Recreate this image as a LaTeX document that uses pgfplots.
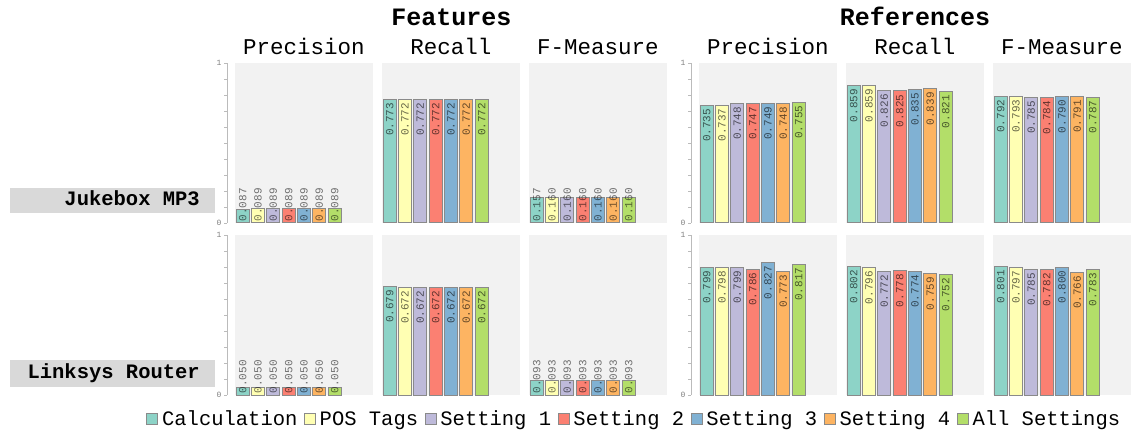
\documentclass[border=0pt]{standalone}
\usepackage{fontspec}
\setmainfont{Liberation Mono}
\usepackage{pgfplots}
\pgfplotsset{compat=1.18}

\definecolor{c1}{HTML}{8DD3C7}
\definecolor{c2}{HTML}{FFFFB3}
\definecolor{c3}{HTML}{BEBADA}
\definecolor{c4}{HTML}{FB8072}
\definecolor{c5}{HTML}{80B1D3}
\definecolor{c6}{HTML}{FDB462}
\definecolor{c7}{HTML}{B3DE69}
\definecolor{panelbg}{HTML}{F2F2F2}
\definecolor{boxbg}{HTML}{D9D9D9}
\definecolor{outl}{HTML}{8A8A8A}
\definecolor{axgray}{HTML}{BBBBBB}

\newcommand\labfont{\fontsize{11}{12}\selectfont}

\pgfplotsset{
  every axis title shift=0pt,
  panel/.style={
    scale only axis, width=138pt, height=160pt, anchor=north west,
    xmin=-0.5, xmax=8.5, ymin=0, ymax=1,
    ybar, bar width=13pt, bar shift=0pt,
    axis line style={draw=none}, xtick=\empty, ytick=\empty,
    axis background/.style={fill=panelbg},
    title style={at={(0.5,1)}, anchor=base, yshift=8pt, font=\fontsize{22.5}{24}\selectfont},
    clip=false,
    /pgf/number format/assume math mode=true,
  },
  toplab/.style={
    nodes near coords={\pgfmathprintnumber[fixed,zerofill,precision=3,assume math mode=true]{\pgfplotspointmeta}},
    every node near coord/.append style={rotate=90, anchor=east, font=\labfont,
      text=black, text opacity=0.6, inner xsep=3pt, inner ysep=0pt},
  },
  lowl/.style={
    forget plot, draw=none, fill=none, point meta=explicit,
    nodes near coords={\pgfmathprintnumber[fixed,zerofill,precision=3,assume math mode=true]{\pgfplotspointmeta}},
    every node near coord/.append style={rotate=90, anchor=west, font=\labfont,
      text=black, text opacity=0.55, inner xsep=1.5pt, inner ysep=0pt},
  },
  yax/.style={
    ytick={0,1}, minor ytick={0.1,0.2,0.3,0.4,0.5,0.6,0.7,0.8,0.9},
    ytick pos=left, tick align=outside,
    major tick length=3pt, minor tick length=3pt,
    every tick/.style={draw=axgray, xshift=-8pt},
    yticklabel style={xshift=-7pt, font=\fontsize{8}{8}\selectfont, text=gray},
    extra description/.code={\draw[axgray] ([xshift=-8pt]0,0) -- ([xshift=-8pt]0,1);},
  },
  bstyle/.style={draw=outl, line width=1pt},
}

\newcommand\bars[7]{%
  \addplot[bstyle, fill=c1] coordinates {(0,#1)};
  \addplot[bstyle, fill=c2] coordinates {(1,#2)};
  \addplot[bstyle, fill=c3] coordinates {(2,#3)};
  \addplot[bstyle, fill=c4] coordinates {(3,#4)};
  \addplot[bstyle, fill=c5] coordinates {(4,#5)};
  \addplot[bstyle, fill=c6] coordinates {(5,#6)};
  \addplot[bstyle, fill=c7] coordinates {(6,#7)};
}
\newcommand\lowlab[7]{%
  \addplot[lowl] coordinates {(0,0) [#1]};
  \addplot[lowl] coordinates {(1,0) [#2]};
  \addplot[lowl] coordinates {(2,0) [#3]};
  \addplot[lowl] coordinates {(3,0) [#4]};
  \addplot[lowl] coordinates {(4,0) [#5]};
  \addplot[lowl] coordinates {(5,0) [#6]};
  \addplot[lowl] coordinates {(6,0) [#7]};
}

\begin{document}
\begin{tikzpicture}
\useasboundingbox (0pt,0pt) rectangle (1145pt,-430pt);

% group titles
\node[anchor=base, font=\fontsize{25}{26}\selectfont\bfseries] at (451.5pt,-26pt) {Features};
\node[anchor=base, font=\fontsize{25}{26}\selectfont\bfseries] at (915pt,-26pt) {References};

% row labels
\fill[boxbg] (10pt,-188pt) rectangle (215pt,-213.5pt);
\node[anchor=base east, inner sep=0pt, font=\fontsize{20.5}{22}\selectfont\bfseries] at (200pt,-206pt) {Jukebox MP3};
\fill[boxbg] (10pt,-359.5pt) rectangle (215pt,-386.5pt);
\node[anchor=base east, inner sep=0pt, font=\fontsize{20.5}{22}\selectfont\bfseries] at (200pt,-378pt) {Linksys Router};

% ---------- Row 1: Jukebox MP3 ----------
\begin{axis}[panel, yax, at={(235pt,-63pt)}, title={Precision}]
  \bars{0.087}{0.089}{0.089}{0.089}{0.089}{0.089}{0.089}
  \lowlab{0.087}{0.089}{0.089}{0.089}{0.089}{0.089}{0.089}
\end{axis}
\begin{axis}[panel, toplab, at={(382pt,-63pt)}, title={Recall}]
  \bars{0.773}{0.772}{0.772}{0.772}{0.772}{0.772}{0.772}
\end{axis}
\begin{axis}[panel, at={(529pt,-63pt)}, title={F-Measure}]
  \bars{0.157}{0.160}{0.160}{0.160}{0.160}{0.160}{0.160}
  \lowlab{0.157}{0.160}{0.160}{0.160}{0.160}{0.160}{0.160}
\end{axis}
\begin{axis}[panel, yax, toplab, at={(699pt,-63pt)}, title={Precision}]
  \bars{0.735}{0.737}{0.748}{0.747}{0.749}{0.748}{0.755}
\end{axis}
\begin{axis}[panel, toplab, at={(846pt,-63pt)}, title={Recall}]
  \bars{0.859}{0.859}{0.826}{0.825}{0.835}{0.839}{0.821}
\end{axis}
\begin{axis}[panel, toplab, at={(993pt,-63pt)}, title={F-Measure}]
  \bars{0.792}{0.793}{0.785}{0.784}{0.790}{0.791}{0.787}
\end{axis}

% ---------- Row 2: Linksys Router ----------
\begin{axis}[panel, yax, at={(235pt,-235pt)},
  legend columns=7,
  legend entries={Calculation, POS Tags, Setting 1, Setting 2, Setting 3, Setting 4, All Settings},
  legend image code/.code={\draw[#1,/tikz/.cd,line width=0.8pt] (0pt,-5pt) rectangle (11pt,6pt);},
  legend style={at={(2.895,-0.15)}, anchor=center, draw=none, fill=none,
    font=\fontsize{20.5}{22}\selectfont, inner sep=0pt,
    nodes={inner xsep=2.5pt, inner ysep=1pt},
    /tikz/every odd column/.append style={column sep=1.5pt},
    /tikz/every even column/.append style={column sep=4pt}},
]
  \bars{0.050}{0.050}{0.050}{0.050}{0.050}{0.050}{0.050}
  \lowlab{0.050}{0.050}{0.050}{0.050}{0.050}{0.050}{0.050}
\end{axis}
\begin{axis}[panel, toplab, at={(382pt,-235pt)}]
  \bars{0.679}{0.672}{0.672}{0.672}{0.672}{0.672}{0.672}
\end{axis}
\begin{axis}[panel, at={(529pt,-235pt)}]
  \bars{0.093}{0.093}{0.093}{0.093}{0.093}{0.093}{0.093}
  \lowlab{0.093}{0.093}{0.093}{0.093}{0.093}{0.093}{0.093}
\end{axis}
\begin{axis}[panel, yax, toplab, at={(699pt,-235pt)}]
  \bars{0.799}{0.798}{0.799}{0.786}{0.827}{0.773}{0.817}
\end{axis}
\begin{axis}[panel, toplab, at={(846pt,-235pt)}]
  \bars{0.802}{0.796}{0.772}{0.778}{0.774}{0.759}{0.752}
\end{axis}
\begin{axis}[panel, toplab, at={(993pt,-235pt)}]
  \bars{0.801}{0.797}{0.785}{0.782}{0.800}{0.766}{0.783}
\end{axis}
\end{tikzpicture}
\end{document}
